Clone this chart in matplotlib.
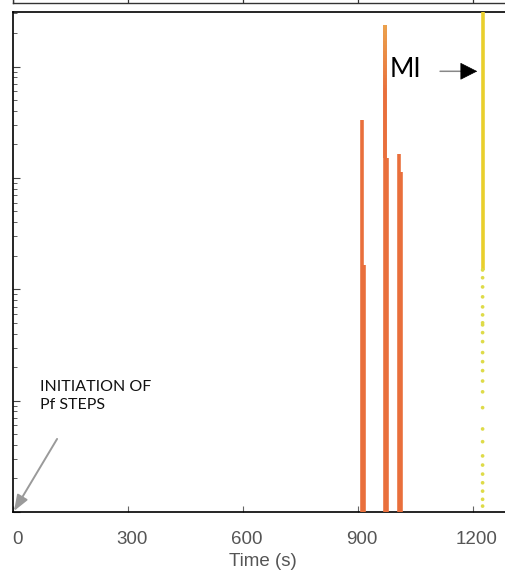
import numpy as np
import matplotlib
matplotlib.use("Agg")
import matplotlib.pyplot as plt
from matplotlib.collections import LineCollection
from matplotlib.colors import LinearSegmentedColormap

# ---------------- data ----------------
x_ticks = [0, 300, 600, 900, 1200]
x_tick_labels = ["0", "300", "600", "900", "1200"]

# orange spikes: time (s) and peak value (log axis), each spans from below the axis
orange_times = [910, 916, 970, 976, 1007, 1013]
orange_peaks = [3330, 166, 23800, 1515, 1650, 1135]
orange_floor = 0.5

# the tallest orange spike has a lighter top
gradient_time = 970
gradient_low = 1500
gradient_high = 23800

# yellow (MI) trace: dense part and sparse dots
yellow_time = 1225
yellow_dense_low = 150
yellow_dense_high = 1e5
yellow_dots = [1.13, 1.30, 1.54, 1.83, 2.19, 2.64, 3.19, 4.28, 5.57, 8.65,
               12.0, 15.0, 18.6, 22.4, 27.0, 33.9, 40.8, 47.9, 50.0, 58.9,
               69.5, 85.5, 105, 127, 149]

# ---------------- figure ----------------
W, H = 505, 571
fig = plt.figure(figsize=(W / 100, H / 100), dpi=100)

x_max = 1304.3
y_min, y_max = 1.0, 10 ** 4.49
px_per_s = 460 / 1200
label_offset_s = 4 / px_per_s   # labels sit slightly right of the ticks

ax = fig.add_axes([13 / W, (H - 512) / H, 500 / W, 500 / H])
ax.set_xlim(0, x_max)
ax.set_yscale("log")
ax.set_ylim(y_min, y_max)

orange = "#E96F3C"
ax.vlines(orange_times, orange_floor, orange_peaks, colors=orange, lw=2.6, zorder=3)

# gradient on the top of the tallest spike
n = 40
ys = np.geomspace(gradient_low, gradient_high, n + 1)
segs = [[(gradient_time, ys[i]), (gradient_time, ys[i + 1])] for i in range(n)]
cmap = LinearSegmentedColormap.from_list("og", [orange, orange, "#EBA24A"])
lc = LineCollection(segs, cmap=cmap, lw=2.6, zorder=4)
lc.set_array(np.linspace(0, 1, n))
ax.add_collection(lc)

# yellow trace
ax.vlines([yellow_time], yellow_dense_low, yellow_dense_high, colors="#E9CF2C",
          lw=2.6, zorder=3)
ax.scatter([yellow_time] * len(yellow_dots), yellow_dots, s=7, color="#DEDB48",
           edgecolors="none", zorder=3)

# axes styling
for s in ["left", "bottom", "top"]:
    ax.spines[s].set_linewidth(1.2)
    ax.spines[s].set_color("black")
ax.spines["right"].set_visible(False)

# major ticks: marks only; minor ticks (no mark): the labels
ax.set_xticks(x_ticks)
ax.set_xticklabels([])
ax.set_xticks([t + label_offset_s for t in x_ticks], minor=True)
ax.set_xticklabels(x_tick_labels, minor=True, fontsize=13.5, color="#555555",
                   family="Liberation Sans")
ax.tick_params(axis="x", which="major", direction="in", length=4, width=0.8,
               color="#666666")
ax.tick_params(axis="x", which="minor", length=0, pad=14)
ax.tick_params(axis="y", which="both", direction="in", labelleft=False,
               color="#444444")
ax.tick_params(axis="y", which="major", length=5, width=0.8)
ax.tick_params(axis="y", which="minor", length=3, width=0.6)
ax.set_xlabel("Time (s)", fontsize=13.5, color="#555555",
              family="Liberation Sans", labelpad=3)

# annotations
ann_font = "Lato"
ax.text(983, 8100, "MI", fontsize=19, family=ann_font, va="baseline",
        ha="left", color="black")
ax.annotate("", xy=(1175, 9070), xytext=(1114, 9070),
            arrowprops=dict(arrowstyle="-", color="#888888", lw=1.1,
                            shrinkA=0, shrinkB=0))
ax.annotate("", xy=(1211, 9070), xytext=(1170, 9070),
            arrowprops=dict(arrowstyle="-|>,head_length=0.75,head_width=0.38",
                            color="black", lw=0.5, mutation_scale=15,
                            shrinkA=0, shrinkB=0))

ax.text(70, 15.4, "INITIATION OF\nPf STEPS", fontsize=11.5, family=ann_font,
        va="top", ha="left", color="#111111", linespacing=1.4)
ax.annotate("", xy=(2.6, 1.02), xytext=(115, 4.53),
            arrowprops=dict(arrowstyle="-|>,head_length=0.8,head_width=0.3",
                            color="#9A9A9A", lw=1.4, mutation_scale=12,
                            shrinkA=0, shrinkB=0), annotation_clip=False)

# upper panel (cut off at the top of the picture)
ax_top = fig.add_axes([13 / W, (H - 3) / H, 500 / W, 0.1])
ax_top.set_xlim(0, x_max)
ax_top.set_xticks(x_ticks)
ax_top.grid(axis="x", color="#333333", lw=0.9)
ax_top.tick_params(length=0, labelbottom=False, labelleft=False)
ax_top.set_yticks([])
for s in ax_top.spines.values():
    s.set_linewidth(1.0)
    s.set_color("#333333")

fig.savefig("out.png", dpi=100)
